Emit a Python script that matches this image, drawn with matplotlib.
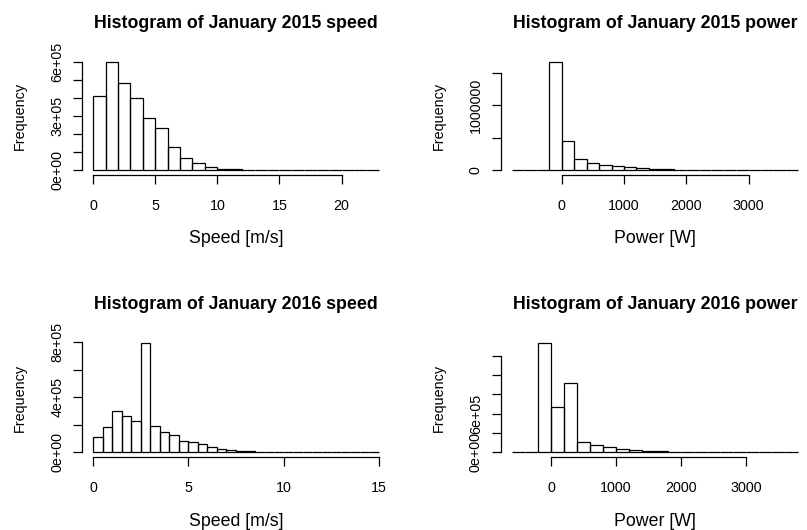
import matplotlib
matplotlib.use("Agg")
import matplotlib.pyplot as plt
import numpy as np

plt.rcParams['font.family'] = ['Liberation Sans', 'DejaVu Sans']

# histogram breaks and counts
speed15_breaks = np.arange(0, 24, 1)
speed15_counts = [409000, 600000, 483000, 400000, 288000, 231000, 127000, 66000,
                  38500, 16500, 9000, 4000, 2000, 1200, 800, 500, 300, 200, 150,
                  100, 60, 40, 20]

power15_breaks = np.arange(-800, 4000, 200)
power15_counts = [0, 0, 0, 1673000, 443000, 168000, 117000, 86000, 66000, 46000,
                  36000, 25000, 15000, 10000, 7000, 5000, 3000, 2000, 1500, 1000,
                  600, 400, 200]

speed16_breaks = np.arange(0, 15.5, 0.5)
speed16_counts = [113000, 183000, 299000, 260000, 229000, 793000, 190000, 145000,
                  123000, 84000, 72000, 63000, 39000, 24000, 17000, 10000, 7000,
                  5000, 3000, 2000, 1500, 1000, 800, 600, 500, 400, 300, 200, 200, 100]

power16_breaks = np.arange(-600, 4000, 200)
power16_counts = [0, 0, 1702000, 700000, 1074000, 156000, 109000, 78000, 52000,
                  36000, 26000, 16000, 10000, 7000, 5000, 3500, 2500, 1500, 1000,
                  600, 400, 200]

# axis ticks and labels
speed15_xticks = [0, 5, 10, 15, 20]
speed15_yticks = [0, 100000, 200000, 300000, 400000, 500000, 600000]
speed15_ylabels = ['0e+00', '', '', '3e+05', '', '', '6e+05']

power15_xticks = [0, 1000, 2000, 3000]
power15_yticks = [0, 500000, 1000000, 1500000]
power15_ylabels = ['0', '', '1000000', '']

speed16_xticks = [0, 5, 10, 15]
speed16_yticks = [0, 200000, 400000, 600000, 800000]
speed16_ylabels = ['0e+00', '', '4e+05', '', '8e+05']

power16_xticks = [0, 1000, 2000, 3000]
power16_yticks = [0, 300000, 600000, 900000, 1200000, 1500000]
power16_ylabels = ['0e+00', '', '6e+05', '', '', '']

W, H = 807, 530
fig = plt.figure(figsize=(W / 100, H / 100), dpi=100)


def add_px_axes(l, t, r, b):
    return fig.add_axes([l / W, 1 - b / H, (r - l) / W, (b - t) / H])


def r_hist(ax, breaks, counts, xticks, yticks, ylabels, title, xlabel):
    lw = 0.9
    ax.bar(breaks[:-1], counts, width=np.diff(breaks), align='edge',
           fill=False, edgecolor='black', linewidth=lw)
    span = breaks[-1] - breaks[0]
    ax.set_xlim(breaks[0] - 0.04 * span, breaks[-1] + 0.04 * span)
    top = max(counts)
    ax.set_ylim(-0.04 * top, 1.04 * top)

    for s in ['top', 'right']:
        ax.spines[s].set_visible(False)
    for s in ['left', 'bottom']:
        ax.spines[s].set_linewidth(lw)
    ax.spines['left'].set_bounds(yticks[0], yticks[-1])
    ax.spines['bottom'].set_bounds(xticks[0], xticks[-1])

    ax.set_xticks(xticks)
    ax.set_xticklabels([str(v) for v in xticks])
    ax.set_yticks(yticks)
    ax.set_yticklabels(ylabels, rotation=90, va='center')
    ax.tick_params(axis='both', direction='out', length=6.3, width=lw,
                   labelsize=10.3, colors='black')
    ax.tick_params(axis='x', pad=11.5)
    ax.tick_params(axis='y', pad=6.3)

    ax.set_title(title, fontsize=12.8, fontweight='bold', pad=21.3)
    ax.set_xlabel(xlabel, fontsize=12.8, va='baseline')
    ax.set_ylabel('Frequency', fontsize=10.4, va='baseline')

    # label positions in axes fractions (from pixel offsets)
    bb = ax.get_position()
    wpx, hpx = bb.width * W, bb.height * H
    ax.xaxis.set_label_coords(0.5, -68.8 / hpx)
    ax.yaxis.set_label_coords(-57.7 / wpx, 0.5)


ax1 = add_px_axes(81.7, 57.3, 390.2, 174.5)
r_hist(ax1, speed15_breaks, speed15_counts, speed15_xticks, speed15_yticks,
       speed15_ylabels, 'Histogram of January 2015 speed', 'Speed [m/s]')

ax2 = add_px_axes(500.5, 57.3, 809.8, 174.5)
r_hist(ax2, power15_breaks, power15_counts, power15_xticks, power15_yticks,
       power15_ylabels, 'Histogram of January 2015 power', 'Power [W]')

ax3 = add_px_axes(81.7, 338.5, 390.2, 456.7)
r_hist(ax3, speed16_breaks, speed16_counts, speed16_xticks, speed16_yticks,
       speed16_ylabels, 'Histogram of January 2016 speed', 'Speed [m/s]')

ax4 = add_px_axes(500.5, 338.5, 809.8, 456.7)
r_hist(ax4, power16_breaks, power16_counts, power16_xticks, power16_yticks,
       power16_ylabels, 'Histogram of January 2016 power', 'Power [W]')

fig.savefig('out.png', dpi=100)
